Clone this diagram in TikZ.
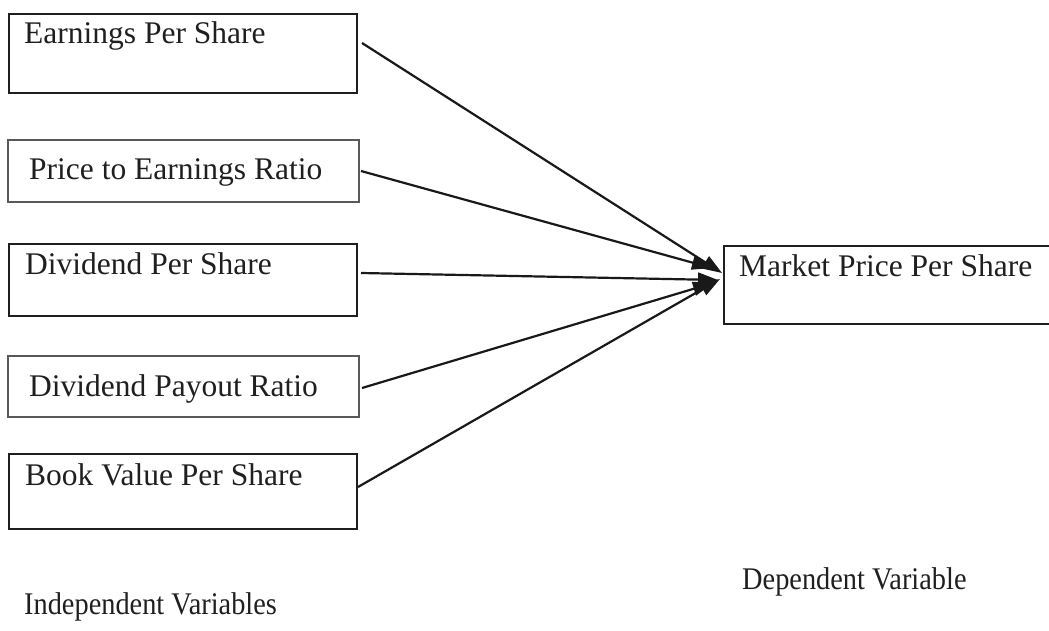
\documentclass[tikz,border=0pt]{standalone}
\usepackage{fontspec}
\setmainfont{Liberation Serif}
\usetikzlibrary{arrows.meta}
\tikzset{
  thickbox/.style={draw=black!88, line width=2.4pt},
  thinbox/.style={draw=black!65, line width=1.5pt},
  lbl/.style={anchor=base west, inner sep=0pt, font=\fontsize{31.5}{34}\selectfont, text=black!88},
  arr/.style={line width=2.2pt, draw=black!90, -{Triangle[length=20pt,width=14pt]}},
}
\newcommand{\narrow}[1]{\scalebox{0.9}[1]{#1}}
\begin{document}
\begin{tikzpicture}[x=1pt,y=-1pt]
\useasboundingbox (0,0) rectangle (1049,631);
\clip (0,0) rectangle (1049,631);
% boxes
\draw[thickbox] (9,14) rectangle (357,93);
\draw[thinbox] (8,140) rectangle (359,202);
\draw[thickbox] (9,244) rectangle (357,316);
\draw[thinbox] (8,356) rectangle (359,417);
\draw[thickbox] (9,454) rectangle (357,529);
\draw[thickbox] (724,246) rectangle (1070,324);
% texts
\node[lbl] (t1) at (24,44) {Earnings Per Share};
\node[lbl] (t2) at (29,180) {Price to Earnings Ratio};
\node[lbl] (t3) at (25,274) {Dividend Per Share};
\node[lbl] (t4) at (29,396) {Dividend Payout Ratio};
\node[lbl] (t5) at (25,485) {Book Value Per Share};
\node[lbl] (tm) at (739,276) {Market Price Per Share};
\node[lbl] (ti) at (24,614) {\narrow{Independent Variables}};
\node[lbl] (td) at (742,589) {\narrow{Dependent Variable}};
% connector points
\coordinate (s1) at (362,43);
\coordinate (s2) at (361,171);
\coordinate (s3) at (361,273);
\coordinate (s4) at (362,388);
\coordinate (s5) at (358,487);
\coordinate (e1) at (722,273);
\coordinate (e2) at (712,268);
\coordinate (e3) at (718,280);
\coordinate (e4) at (713,283);
\coordinate (e5) at (720,279);
\draw[arr] (s1) -- (e1);
\draw[arr] (s2) -- (e2);
\draw[arr] (s3) -- (e3);
\draw[arr] (s4) -- (e4);
\draw[arr] (s5) -- (e5);
\end{tikzpicture}
\end{document}
